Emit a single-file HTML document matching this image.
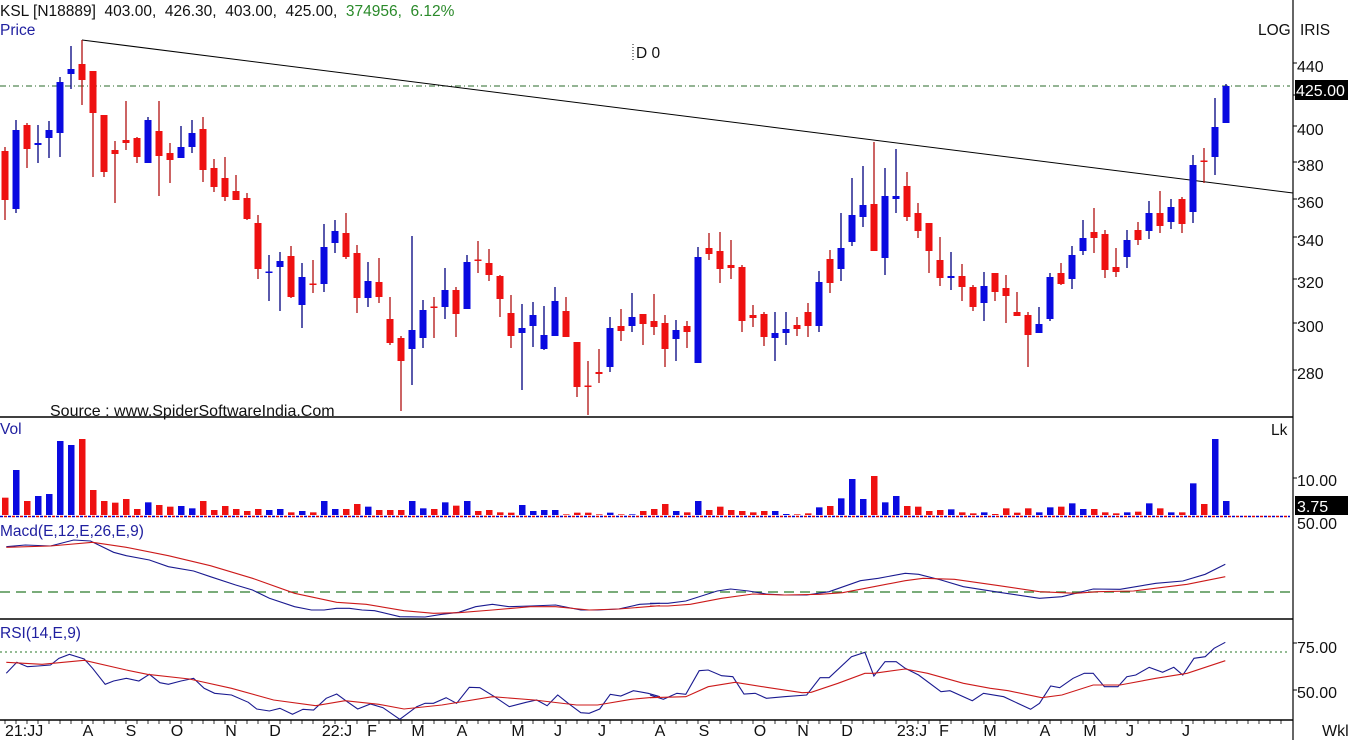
<!DOCTYPE html>
<html><head><meta charset="utf-8"><style>
html,body{margin:0;padding:0;background:#fff;}
svg{display:block;font-family:"Liberation Sans",sans-serif;}
text{white-space:pre;}
</style></head><body>
<svg id="s" width="1352" height="740" xmlns="http://www.w3.org/2000/svg" xml:space="preserve">
<rect width="1352" height="740" fill="#fff"/>
<g id="g"></g>
<text x="0" y="16" font-size="15.5" fill="#111">KSL [N18889]  403.00,  426.30,  403.00,  425.00,  <tspan fill="#2a8a2a">374956,  6.12%</tspan></text>
<text x="0" y="35" font-size="15.5" fill="#2020a0">Price</text>
<text x="636" y="58" font-size="15.5" fill="#111">D 0</text>
<line x1="633" y1="44" x2="633" y2="60" stroke="#111" stroke-dasharray="1,2"/>
<text x="1258" y="35" font-size="15.5" fill="#111">LOG</text>
<text x="1300" y="35" font-size="15.5" fill="#111">IRIS</text>
<text x="50" y="416" font-size="16" fill="#111">Source : www.SpiderSoftwareIndia.Com</text>
<text x="0" y="434" font-size="15.5" fill="#2020a0">Vol</text>
<text x="1271" y="435" font-size="15.5" fill="#111">Lk</text>
<text x="0" y="536" font-size="15.5" fill="#2020a0">Macd(E,12,E,26,E,9)</text>
<text x="0" y="638" font-size="15.5" fill="#2020a0">RSI(14,E,9)</text>
</svg>
<script>
var g=document.getElementById('g');var h='';
function L(x1,y1,x2,y2,c,w,d){h+='<line x1="'+x1+'" y1="'+y1+'" x2="'+x2+'" y2="'+y2+'" stroke="'+c+'" stroke-width="'+(w||1)+'"'+(d?' stroke-dasharray="'+d+'"':'')+'/>';}
function R(x,y,w,hh,c){h+='<rect x="'+x+'" y="'+y+'" width="'+w+'" height="'+hh+'" fill="'+c+'"/>';}
function T(x,y,t,s,c,a){h+='<text x="'+x+'" y="'+y+'" font-size="'+(s||16)+'" fill="'+(c||'#111')+'"'+(a?' text-anchor="'+a+'"':'')+'>'+t+'</text>';}
L(0,417,1293,417,'#000',1.5);L(0,619,1293,619,'#000',1.5);L(0,720,1293,720,'#000',1.5);
L(0,516.5,1290,516.5,'#0000cc',1.5,'3,5');L(4,516.5,1290,516.5,'#dd0000',1.5,'3,5');
L(1293,0,1293,740,'#000',1.2);
L(0,86,1290,86,'#2a6a2a',1,'6,3,1,3');
L(0,592,1290,592,'#2a7a2a',1.2,'10,6');
L(0,652,1290,652,'#2a7a2a',1,'2,3');
L(82,40,1293,193,'#000',1);
var C=[
'r',147,151,200,220,'b',120,130,209,213,'r',123,125,149,168,'b',125,143,145,163,'b',121,130,138,158,
'b',77,82,133,157,'b',46,69,74,89,'r',40,64,80,105,'r',71,71,113,177,'r',115,115,172,177,
'r',141,150,154,203,'r',101,140,143,150,'r',137,138,157,163,'b',117,120,163,163,'r',101,131,156,196,
'r',143,153,160,183,'b',126,147,158,158,'b',120,133,147,153,'r',117,129,170,182,'r',159,168,187,192,
'r',157,178,197,201,'r',175,191,200,200,'r',193,198,219,220,'r',215,223,269,279,'b',255,272,273,301,
'b',252,261,267,311,'r',246,256,297,298,'b',263,277,305,328,'r',260,284,285,293,'b',224,247,284,292,
'b',220,231,243,253,'r',213,233,257,259,'r',245,253,298,313,'b',262,281,298,307,'r',258,282,297,303,
'r',297,319,343,345,'r',336,338,361,411,'b',236,330,349,385,'b',300,310,338,348,'r',297,307,308,338,
'b',268,290,307,319,'r',287,290,314,337,'b',255,262,309,309,'r',241,260,261,273,'r',249,263,275,281,
'r',275,276,299,317,'r',295,313,336,348,'b',304,328,333,390,'b',302,315,326,347,'b',306,335,349,350,
'b',287,301,336,336,'r',297,311,337,337,'r',342,342,387,397,'r',361,386,387,415,'r',349,372,374,383,
'b',317,328,367,372,'r',309,326,331,341,'b',293,317,326,332,'r',314,314,324,345,'r',294,321,327,335,
'r',315,323,349,367,'b',320,330,339,361,'r',321,326,332,348,'b',247,257,363,363,'r',233,248,254,260,
'r',232,251,269,283,'r',240,265,268,279,'r',265,267,321,332,'r',305,315,318,327,'r',312,314,337,346,
'b',312,333,338,361,'b',312,329,333,345,'r',317,325,329,336,'r',303,312,326,337,'b',271,282,326,332,
'r',250,259,283,293,'b',213,248,269,281,'b',178,215,242,246,'b',166,205,217,227,'r',142,204,251,251,
'b',168,196,258,275,'b',149,196,199,213,'r',172,186,217,221,'r',203,213,231,238,'r',223,223,251,273,
'r',237,260,278,286,'b',252,276,278,290,'r',264,276,287,301,'r',285,287,307,311,'b',272,286,303,321,
'r',273,273,292,301,'r',275,288,296,323,'r',292,312,316,316,'r',312,315,335,367,'b',307,324,333,333,
'b',273,277,319,321,'r',263,273,284,285,'b',246,255,279,289,'b',220,238,251,255,'r',208,232,238,253,
'r',230,234,270,278,'r',248,267,272,277,'b',230,240,257,268,'r',222,230,240,245,'b',201,213,231,239,
'r',191,213,226,233,'b',199,207,222,229,'r',197,199,224,233,'b',155,165,212,223,'r',148,161,162,183,
'b',98,127,157,175,'b',84,86,123,123];
var V=[248,165,258,243,237,78,90,72,225,258,263,252,282,262,270,275,273,280,258,285,273,282,288,282,285,282,292,288,292,258,282,282,267,275,285,285,285,258,280,282,262,272,258,288,285,292,293,270,288,285,285,298,293,293,298,293,298,298,288,
282,267,288,292,258,285,275,285,288,292,288,288,297,298,295,277,273,250,192,252,183,262,243,273,275,288,285,283,292,295,292,297,280,293,280,292,277,275,265,282,282,292,295,292,290,265,280,292,292,205,267,72,258];
for(var i=0;i<C.length/5;i++){
 var c=C[i*5],hi=C[i*5+1],tp=C[i*5+2],bt=C[i*5+3],lo=C[i*5+4];
 var x=5+11*i;var col=c=='r'?'#ee1111':'#0a0ae0';var wc=c=='r'?'#b01010':'#000080';
 L(x,hi,x,lo,wc,1.3);
 var bh=Math.max(bt-tp,1.5);R(x-3.5,tp-(bt-tp<1.5?0.5:0),7,bh,col);
 if(i<V.length){var vy=415+V[i]/3;R(x-3,vy,6.5,515-vy,col);}
}
function P(pts,fx,ox,col){var s='';for(var k=0;k<pts.length;k+=2){s+=(ox+pts[k]/fx).toFixed(1)+','+(515+pts[k+1]/3).toFixed(1)+' ';}h+='<polyline points="'+s+'" fill="none" stroke="'+col+'" stroke-width="1.1"/>';}
var a=2.376,b=2.2336,BL='#1a1a90',RD='#cc1a1a';
P([15,95,60,90,120,93,175,75,215,78,270,112,300,122,355,135,400,155,460,168,500,185,560,210,600,225,640,250,700,275,740,285,770,285,800,280,830,280,860,285,890,287,950,305,1010,306,1050,298,1090,292,1130,275,1170,268,1210,275,1260,273,1320,270,1380,285,1420,285,1470,282,1520,268,1568,265],a,0,BL);
P([15,97,120,93,220,82,300,97,400,122,500,152,600,190,700,235,800,262,870,268,960,287,1030,295,1090,293,1170,285,1260,275,1320,275,1400,285,1470,282,1568,272],a,0,RD);
P([0,265,40,265,80,258,150,228,180,222,220,228,260,237,300,240,350,240,400,230,470,197,510,190,570,175,600,178,650,195,700,215,780,232,870,250,920,245,990,222,1050,223,1130,205,1190,198,1240,178,1285,148],b,650,BL);
P([0,273,40,273,90,268,160,250,230,237,300,240,380,238,430,233,500,215,570,197,610,190,680,193,780,212,870,230,950,235,1000,230,1080,228,1200,208,1285,185],b,650,RD);
P([15,475,40,442,65,455,90,453,120,450,140,430,165,418,200,432,220,460,250,508,270,498,300,490,330,498,355,478,380,503,400,508,430,498,460,490,485,520,510,535,550,540,590,562,610,582,640,588,665,580,695,598,720,583,745,585,775,550,800,537,825,560,850,582,880,567,910,578,950,613,990,575,1010,565,1030,565,1060,548,1085,565,1115,517,1140,518,1175,545,1210,575,1250,562,1275,555,1300,572,1325,540,1350,565,1380,593,1400,595,1425,582,1450,538,1475,543,1505,527,1540,535,1568,545],a,0,BL);
P([15,442,100,448,200,436,300,465,350,478,450,492,550,520,650,555,750,572,820,557,900,568,960,582,1050,570,1170,545,1270,555,1370,570,1420,570,1500,553,1568,545],a,0,RD);
P([0,540,30,553,60,535,80,538,110,467,130,465,160,482,185,485,210,537,235,535,260,550,300,545,350,540,380,488,400,488,450,425,480,412,500,483,525,440,550,440,570,460,600,480,650,530,670,527,720,557,745,535,790,545,850,583,870,565,895,513,915,518,945,490,970,475,990,475,1015,515,1045,515,1065,485,1085,480,1115,457,1145,472,1170,457,1190,480,1215,430,1240,425,1260,400,1285,382],b,650,BL);
P([0,548,80,545,130,515,190,502,260,517,340,533,360,532,420,505,480,475,500,475,570,462,620,475,700,505,760,520,800,527,875,548,920,540,990,510,1050,510,1130,490,1200,475,1285,437],b,650,RD);
var ty=[[440,67],[400,130],[380,166],[360,203],[340,241],[320,283],[300,327],[280,374]];
ty.forEach(function(t){L(1293,t[1]-4,1297,t[1]-4,'#000');T(1297,t[1]+5,t[0]);});
L(1293,95,1297,95,'#000');
R(1295,80,53,20,'#000');T(1296,96,'425.00',16,'#fff');
L(1293,478,1297,478,'#000');T(1297,486,'10.00');
R(1295,496,53,19,'#000');T(1297,512,'3.75',16,'#fff');
T(1297,529,'50.00');
L(1293,643,1297,643,'#000');T(1297,653,'75.00');
L(1293,690,1297,690,'#000');T(1297,698,'50.00');
var xl=[['21:JJ',5,'start'],['A',88],['S',131],['O',177],['N',231],['D',275],['22:J',337],['F',372],['M',418],['A',462],['M',518],['J',558],['J',602],['A',660],['S',704],['O',760],['N',803],['D',847],['23:J',912],['F',944],['M',990],['A',1045],['M',1090],['J',1130],['J',1186]];
xl.forEach(function(t){T(t[1],736,t[0],16,'#111',t[2]||'middle');});
T(1322,736,'Wkl');
for(var x=5;x<1290;x+=11){L(x,720,x,724,'#000',0.8);}
g.innerHTML=h;
</script>
</body></html>
